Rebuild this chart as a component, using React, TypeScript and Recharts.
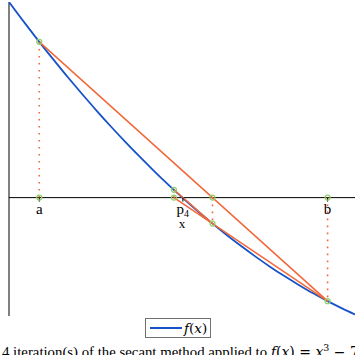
import React from 'react';
import { ComposedChart, Line, Scatter, XAxis, YAxis, ReferenceLine } from 'recharts';

// curve f(x)
const curveX = [0.79, 0.9, 1.0, 1.1, 1.2, 1.3, 1.4, 1.5, 1.6, 1.7, 1.8, 1.9, 2.0, 2.1, 2.2, 2.3, 2.4, 2.5, 2.6, 2.7, 2.8, 2.9, 3.0, 3.1, 3.19];
const curveY = [19.5, 17.39, 15.53, 13.73, 11.97, 10.28, 8.63, 7.04, 5.51, 4.03, 2.6, 1.23, -0.09, -1.36, -2.57, -3.73, -4.83, -5.88, -6.88, -7.82, -8.7, -9.54, -10.32, -11.04, -11.65];

// secant iterates p0 (=a), p1 (=b), p2, p3, p4
const iterX = [1.0, 3.0, 2.2015, 1.934, 1.996];
const iterY = [15.53, -10.32, -2.59, 0.78, -0.05];

const tickLabels = ['a', 'p4', 'b'];
const tickIndex = [0, 4, 1];

const X_DOMAIN = [0.79, 3.19];
const Y_DOMAIN = [-11.8, 19.5];

const BLUE = '#1652c8';
const ORANGE = '#f2673a';
const GREEN = '#8fd068';
const SERIF = '"Liberation Serif", "DejaVu Serif", serif';
const MATH = '"DejaVu Serif", serif';

const curveData = curveX.map((x, i) => ({ x, y: curveY[i] }));
const secants = [
  [{ x: iterX[0], y: iterY[0] }, { x: iterX[1], y: iterY[1] }],
  [{ x: iterX[1], y: iterY[1] }, { x: iterX[3], y: 0 }],
  [{ x: iterX[2], y: iterY[2] }, { x: iterX[3], y: iterY[3] }],
];
const verticals = [0, 1, 2, 3].map((i) => [{ x: iterX[i], y: 0 }, { x: iterX[i], y: iterY[i] }]);
const markers = [0, 1, 2, 3].flatMap((i) => [{ x: iterX[i], y: 0 }, { x: iterX[i], y: iterY[i] }]);
const tickData = tickIndex.map((k, j) => ({ x: iterX[k], y: 0, label: tickLabels[j] }));

const MarkerShape = (props: any) => {
  const { cx, cy } = props;
  return <circle cx={cx} cy={cy} r={2.5} fill="none" stroke={GREEN} strokeWidth={1.2} />;
};

const TickShape = (props: any) => {
  const { cx, cy, payload } = props;
  const lbl: string = payload.label;
  return (
    <g>
      <line x1={cx} y1={cy} x2={cx} y2={cy + 4} stroke="#000" strokeWidth={1} />
      <text x={cx} y={cy + 16.5} textAnchor="middle" fontFamily={SERIF} fontSize={15} fill="#000">
        {lbl === 'p4' ? (
          <>
            <tspan>p</tspan>
            <tspan fontSize={10} dy={2.5}>4</tspan>
          </>
        ) : (
          lbl
        )}
      </text>
    </g>
  );
};

const XLabel = (props: any) => {
  const vb = props.viewBox || {};
  return (
    <text x={vb.x + vb.width / 2} y={vb.y + 30} textAnchor="middle" fontFamily={SERIF} fontSize={13} fill="#000">
      x
    </text>
  );
};

export default function App() {
  return (
    <div style={{ position: 'absolute', left: 0, top: 0, width: 355, height: 355, background: '#fff', overflow: 'hidden' }}>
      <ComposedChart width={355} height={355} margin={{ top: 2, right: 0, left: 9, bottom: 39 }}>
        <XAxis dataKey="x" type="number" domain={X_DOMAIN} allowDataOverflow hide />
        <YAxis dataKey="y" type="number" domain={Y_DOMAIN} allowDataOverflow hide />
        <ReferenceLine x={X_DOMAIN[0]} stroke="#808080" strokeWidth={2} ifOverflow="extendDomain" />
        <ReferenceLine y={0} stroke="#000" strokeWidth={1} label={<XLabel />} />
        {verticals.map((d, i) => (
          <Line key={'v' + i} data={d} dataKey="y" stroke={ORANGE} strokeWidth={1.6} strokeDasharray="1.6 5.4" dot={false} activeDot={false} isAnimationActive={false} />
        ))}
        <Line data={curveData} dataKey="y" type="monotone" stroke={BLUE} strokeWidth={1.8} dot={false} activeDot={false} isAnimationActive={false} />
        {secants.map((d, i) => (
          <Line key={'s' + i} data={d} dataKey="y" stroke={ORANGE} strokeWidth={1.5} dot={false} activeDot={false} isAnimationActive={false} />
        ))}
        <Scatter data={tickData} dataKey="y" shape={<TickShape />} isAnimationActive={false} />
        <Scatter data={markers} dataKey="y" shape={<MarkerShape />} isAnimationActive={false} />
      </ComposedChart>
      <div style={{ position: 'absolute', left: 145, top: 318, width: 64, height: 18, border: '1.5px solid #707070', background: '#fff', display: 'flex', alignItems: 'center' }}>
        <svg width={36} height={18} style={{ display: 'block' }}>
          <line x1={4} y1={9} x2={36} y2={9} stroke={BLUE} strokeWidth={2} />
        </svg>
        <span style={{ fontFamily: MATH, fontStyle: 'italic', fontSize: 13.5, marginLeft: 2, whiteSpace: 'nowrap' }}>
          f<span style={{ fontStyle: 'normal' }}>(</span>x<span style={{ fontStyle: 'normal' }}>)</span>
        </span>
      </div>
      <svg width={355} height={355} style={{ position: 'absolute', left: 0, top: 0, pointerEvents: 'none' }}>
        <text x={2} y={357} fontFamily={SERIF} fontSize={14.8} fill="#000">
          4 iteration(s) of the secant method applied to{' '}
          <tspan fontStyle="italic" fontFamily={MATH} fontSize={14}>f</tspan>
          <tspan fontFamily={MATH} fontSize={14}>(</tspan>
          <tspan fontStyle="italic" fontFamily={MATH} fontSize={14}>x</tspan>
          <tspan fontFamily={MATH} fontSize={14}>) = </tspan>
          <tspan fontStyle="italic" fontFamily={MATH} fontSize={14}>x</tspan>
          <tspan fontFamily={MATH} fontSize={9.5} dy={-6}>3</tspan>
          <tspan fontFamily={MATH} fontSize={14} dy={6}> − 7</tspan>
        </text>
      </svg>
    </div>
  );
}
